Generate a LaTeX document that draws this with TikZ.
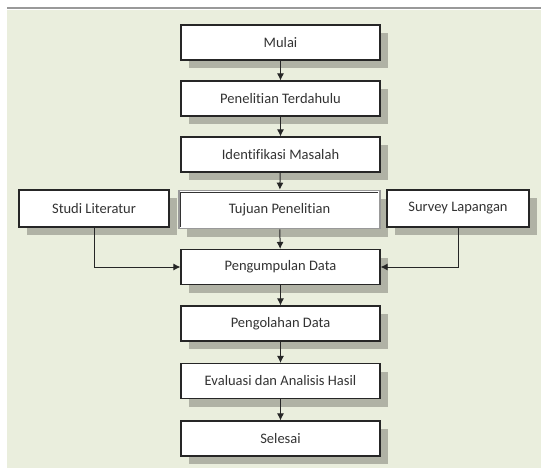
\documentclass[tikz,border=0pt]{standalone}
\usepackage{fontspec}
\setmainfont{Carlito}[RawFeature={-liga;-clig;-dlig;-calt}]
\usetikzlibrary{shadows,arrows.meta}
\definecolor{bgreen}{HTML}{EAEEDD}
\definecolor{shadowgray}{HTML}{B0B2A5}
\definecolor{txtgray}{HTML}{333333}
\tikzstyle{box}=[rectangle,draw=black!85,line width=1.1pt,fill=white,minimum height=35pt,
  inner sep=2pt,text=txtgray,font=\fontsize{14.5}{16}\selectfont,
  drop shadow={shadow xshift=8pt,shadow yshift=-8pt,fill=shadowgray,opacity=1}]
\tikzstyle{arr}=[draw=black!85,line width=1pt,-{Latex[length=7pt,width=7pt]}]

\begin{document}
\begin{tikzpicture}[x=1pt,y=-1pt]
\useasboundingbox (0,0) rectangle (541,469);
% background
\fill[bgreen] (7,10) rectangle (541,468);
\draw[black!40,line width=1.5pt] (7,8) -- (541,8);
% main column
\node[box,minimum width=199pt] (mulai) at (280.5,42.5) {Mulai};
\node[box,minimum width=199pt] (terdahulu) at (280.5,98.5) {Penelitian Terdahulu};
\node[box,minimum width=199pt] (masalah) at (280.5,154.5) {Identifikasi Masalah};
\node[box,minimum width=201pt,minimum height=38pt,draw=black!40,line width=1.6pt] (tujuan) at (279.5,209.5) {Tujuan Penelitian};
\draw[black!80,line width=1pt] ([xshift=2.5pt,yshift=2.5pt]tujuan.south west) |- ([xshift=-2.5pt,yshift=-2.5pt]tujuan.north east);
\node[box,minimum width=199pt] (kumpul) at (280.5,267) {Pengumpulan Data};
\node[box,minimum width=199pt] (olah) at (280.5,323.5) {Pengolahan Data};
\node[box,minimum width=199pt] (evaluasi) at (280.5,381) {Evaluasi dan Analisis Hasil};
\node[box,minimum width=199pt] (selesai) at (280.5,438.5) {Selesai};
% side boxes
\node[box,minimum width=150pt,minimum height=37pt] (studi) at (94,208.5) {Studi Literatur};
\node[box,minimum width=142pt,minimum height=37pt] (survey) at (458,208.5) {Survey Lapangan};
% arrows
\draw[arr] (mulai) -- (terdahulu);
\draw[arr] (terdahulu) -- (masalah);
\draw[arr] (masalah) -- (tujuan);
\draw[arr] (tujuan) -- (kumpul);
\draw[arr] (kumpul) -- (olah);
\draw[arr] (olah) -- (evaluasi);
\draw[arr] (evaluasi) -- (selesai);
\draw[arr] (studi.south) |- (kumpul.west);
\draw[arr] (survey.south) |- (kumpul.east);
\end{tikzpicture}
\end{document}
